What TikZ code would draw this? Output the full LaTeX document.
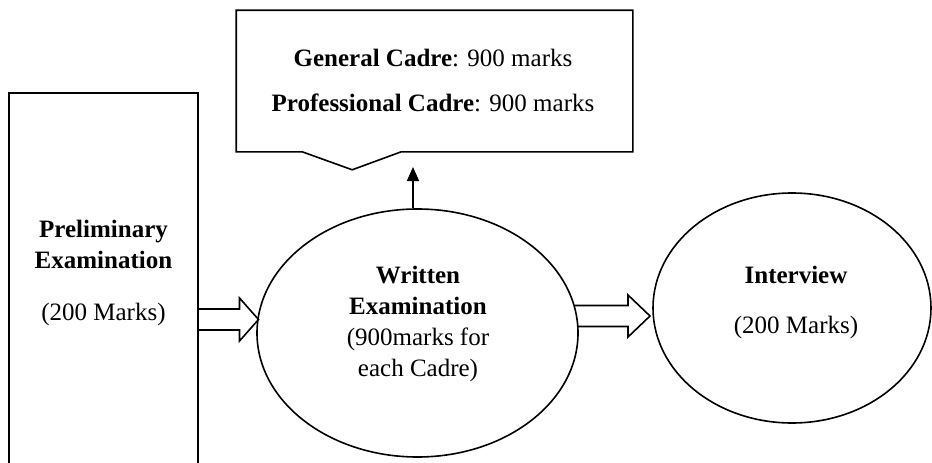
\documentclass[tikz,border=0pt]{standalone}
\usepackage{fontspec}
\setmainfont{Liberation Serif}
\usetikzlibrary{shapes.geometric,arrows.meta,calc}
\begin{document}
\begin{tikzpicture}[x=1pt,y=-1pt, line width=1.6pt, line join=miter,
  font=\fontsize{25}{31}\selectfont,
  txt/.style={align=center, inner sep=0pt},
  oval/.style={draw, ellipse, inner sep=0pt},
  blockarrow/.style={draw, line width=1.6pt},
  ]
\useasboundingbox (0,0) rectangle (932,463);
% Preliminary (open at bottom)
\draw (9,463) -- (9,93) -- (198,93) -- (198,463);
\node[txt] (prelim) at (103.5,273) {\textbf{Preliminary}\\\textbf{Examination}\\[21pt](200 Marks)};
\coordinate (prelimE) at (198,319.5);
% Written examination
\node[oval, minimum width=321pt, minimum height=248pt] (wexam) at (417.5,333) {};
\node[txt] (wtext) at (418,324) {\textbf{Written}\\\textbf{Examination}\\(900marks for\\each Cadre)};
% Interview
\node[oval, minimum width=278pt, minimum height=230pt] (intv) at (792,308) {};
\node[txt] (itext) at (796,302) {\textbf{Interview}\\[19pt](200 Marks)};
% Callout
\node[minimum width=395pt, minimum height=140pt, inner sep=0pt] (callout) at (434.5,81) {};
\draw (callout.north west) -- (callout.north east) -- (callout.south east)
  -- ($(callout.south west)+(165,0)$) -- ($(callout.south west)+(116,18)$)
  -- ($(callout.south west)+(66,0)$) -- (callout.south west) -- cycle;
\node[txt] (ctext) at (433,81) {\textbf{General Cadre}: 900 marks\\[14pt]\textbf{Professional Cadre}: 900 marks};
% arrow up to callout
\coordinate (wtop) at ($(wexam.north)+(-4.5,0)$);
\coordinate (ctip) at (413,167);
\draw[-{Triangle[width=12pt,length=14pt]}] (wtop) -- (ctip);
% block arrow 1
\coordinate (a1tip) at (258.5,319.5);
\draw[blockarrow] ($(prelimE)+(0,-10.5)$) -- ($(a1tip)+(-19,-10.5)$) -- ($(a1tip)+(-19,-21.5)$)
  -- (a1tip) -- ($(a1tip)+(-19,21.5)$) -- ($(a1tip)+(-19,10.5)$) -- ($(prelimE)+(0,10.5)$);
% block arrow 2
\coordinate (a2tip) at (650,316);
\coordinate (a2top) at (574,305.5);
\coordinate (a2bot) at (577.7,326.5);
\draw[blockarrow] (a2top) -- ($(a2tip)+(-22,-10.5)$) -- ($(a2tip)+(-22,-21)$)
  -- (a2tip) -- ($(a2tip)+(-22,21)$) -- ($(a2tip)+(-22,10.5)$) -- (a2bot);
\end{tikzpicture}
\end{document}
